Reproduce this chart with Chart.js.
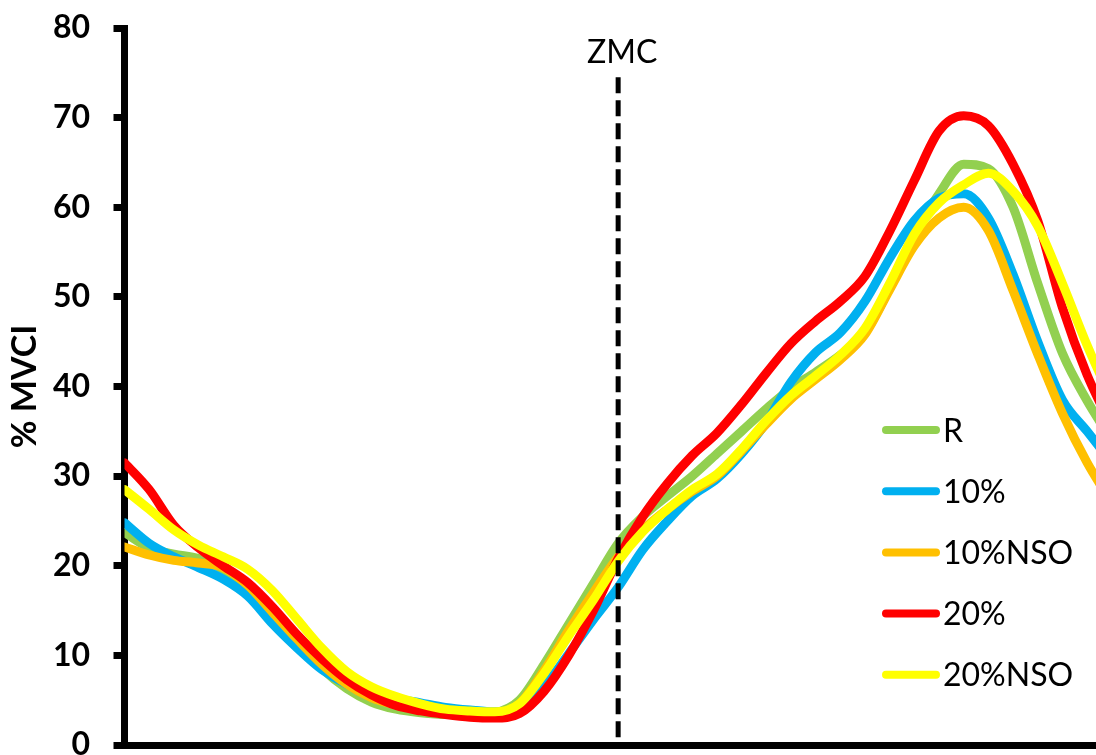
<!DOCTYPE html>
<html>
<head>
<meta charset="utf-8">
<script src="https://cdn.jsdelivr.net/npm/chart.js@4.4.1/dist/chart.umd.min.js"></script>
<style>
html,body{margin:0;padding:0;background:#fff;overflow:hidden}
#wrap{width:1096px;height:755px;position:relative;background:#fff}
</style>
</head>
<body>
<div id="wrap"><canvas id="c" width="1096" height="755"></canvas></div>
<script>
// ---- data ----
const xPct = [0,2.5,5,7.5,10,12.5,15,17.5,20,22.5,25,27.5,30,32.5,35,37.5,40,42.5,45,47.5,50,52.5,55,57.5,60,62.5,65,67.5,70,72.5,75,77.5,80,82.5,85,87.5,90,92.5,95,97.5,100];
const seriesNames = ['R','10%','10%NSO','20%','20%NSO'];
const seriesColors = ['#92D050','#00B0F0','#FFC000','#FF0000','#FFFF00'];
const valsR      = [23.7,22.0,21.3,20.8,19.6,17.6,14.5,11.4,8.5,6.3,4.8,4.0,3.6,3.4,3.4,3.6,5.0,9.0,13.5,18.0,22.5,25.5,27.8,30.0,32.5,35.0,37.5,39.8,41.6,43.5,46.0,51.0,57.0,61.5,64.8,64.3,60.0,51.5,43.7,38.4,34.0];
const vals10     = [24.8,22.5,21.0,19.8,18.5,16.6,13.5,10.8,8.4,6.8,5.9,5.2,4.7,4.2,3.9,3.7,4.0,6.5,10.2,14.0,17.6,21.8,25.0,27.8,29.7,32.5,36.0,40.5,43.8,46.0,49.5,54.3,58.5,61.0,61.5,58.8,52.5,45.0,38.5,35.0,31.5];
const vals10NSO  = [22.1,21.2,20.6,20.3,19.8,17.8,14.8,11.8,9.0,6.8,5.3,4.5,4.0,3.7,3.6,3.6,4.6,8.3,12.8,17.0,21.0,24.0,26.3,28.3,30.0,32.8,35.8,38.6,40.8,43.0,45.8,50.8,55.7,58.8,60.0,57.4,50.7,43.6,37.0,31.5,27.0];
const vals20     = [31.5,28.5,24.5,22.0,20.0,18.1,15.4,12.3,9.6,7.3,5.6,4.4,3.8,3.4,3.1,3.0,3.5,6.0,10.0,15.0,20.8,25.5,29.2,32.3,34.8,38.0,41.5,44.8,47.3,49.5,52.3,57.3,63.0,68.5,70.2,69.1,64.8,58.5,48.8,41.3,35.5];
const vals20NSO  = [28.5,26.3,24.0,22.3,21.0,19.6,17.2,14.0,10.8,8.2,6.5,5.4,4.6,4.0,3.8,3.7,4.6,8.0,12.2,16.2,20.5,23.8,26.3,28.5,30.2,33.0,36.2,39.0,41.2,43.5,46.5,51.5,57.0,60.5,62.5,63.8,61.8,57.9,51.5,44.6,38.5];
const yTickValues = [0,10,20,30,40,50,60,70,80];
const yTitle = '% MVCI';
const zmcX = 50;
const zmcLabel = 'ZMC';
const zmcTopValue = 74.5;

const allVals = [valsR, vals10, vals10NSO, vals20, vals20NSO];

const datasets = seriesNames.map((name, i) => ({
  label: name,
  data: xPct.map((x, j) => ({x: x, y: allVals[i][j]})),
  borderColor: seriesColors[i],
  backgroundColor: seriesColors[i],
  borderWidth: 9,
  pointRadius: 0,
  pointHoverRadius: 0,
  tension: 0.4,
  cubicInterpolationMode: 'monotone',
  fill: false,
  order: seriesNames.length - i,
  borderCapStyle: 'round',
  borderJoinStyle: 'round'
}));

const FONT = 'Lato, "Open Sans", "Liberation Sans", sans-serif';

const overlayPlugin = {
  id: 'overlay',
  afterDatasetsDraw(chart) {
    const ctx = chart.ctx;
    const xs = chart.scales.x, ys = chart.scales.y;
    const zx = xs.getPixelForValue(zmcX);
    const top = ys.getPixelForValue(zmcTopValue);
    const bottom = ys.getPixelForValue(0);
    ctx.save();
    ctx.strokeStyle = '#000';
    ctx.lineWidth = 5;
    ctx.setLineDash([16, 7]);
    ctx.beginPath();
    ctx.moveTo(zx, top);
    ctx.lineTo(zx, bottom);
    ctx.stroke();
    ctx.setLineDash([]);
    ctx.fillStyle = '#000';
    ctx.font = '32px ' + FONT;
    ctx.textAlign = 'center';
    ctx.textBaseline = 'alphabetic';
    ctx.fillText(zmcLabel, zx + 4, top - 14);
    const lx0 = 886, lx1 = 936, ly0 = 430, dy = 61.2;
    chart.data.datasets.forEach((ds, i) => {
      const y = ly0 + i * dy;
      ctx.strokeStyle = ds.borderColor;
      ctx.lineWidth = 8;
      ctx.lineCap = 'round';
      ctx.beginPath();
      ctx.moveTo(lx0, y);
      ctx.lineTo(lx1, y);
      ctx.stroke();
      ctx.fillStyle = '#000';
      ctx.textAlign = 'left';
      ctx.textBaseline = 'alphabetic';
      ctx.font = '32px ' + FONT;
      ctx.fillText(ds.label, 943, y + 11.5);
    });
    ctx.restore();
  }
};

new Chart(document.getElementById('c'), {
  type: 'line',
  data: { datasets: datasets },
  options: {
    responsive: false,
    devicePixelRatio: 1,
    animation: false,
    events: [],
    layout: { padding: { top: 28, bottom: 10, left: 0, right: 0 } },
    plugins: { legend: { display: false }, tooltip: { enabled: false } },
    scales: {
      x: {
        type: 'linear',
        min: 0,
        max: 98.4,
        grid: { display: true, drawOnChartArea: false, drawTicks: false },
        border: { display: true, color: '#000', width: 7 },
        ticks: { display: false },
        afterFit(scale) {
          scale.height = 0;
          scale.paddingTop = 0; scale.paddingBottom = 0;
          scale.paddingLeft = 0; scale.paddingRight = 0;
        }
      },
      y: {
        type: 'linear',
        min: 0,
        max: 80,
        afterBuildTicks(scale) { scale.ticks = yTickValues.map(v => ({value: v})); },
        grid: { display: true, drawOnChartArea: false, drawTicks: true, tickLength: 11, tickWidth: 7, tickColor: '#000' },
        border: { display: true, color: '#000', width: 7 },
        ticks: {
          color: '#000',
          padding: 23.5,
          font: { family: FONT, size: 32, weight: 'bold' }
        },
        title: {
          display: true,
          text: yTitle,
          color: '#000',
          padding: { top: 5, bottom: 0 },
          font: { family: FONT, size: 34, weight: 'bold' }
        },
        afterFit(scale) {
          scale.width = 124.5;
          scale.paddingTop = 0; scale.paddingBottom = 0;
          scale.paddingLeft = 0; scale.paddingRight = 0;
        }
      }
    }
  },
  plugins: [overlayPlugin]
});
</script>
</body>
</html>
